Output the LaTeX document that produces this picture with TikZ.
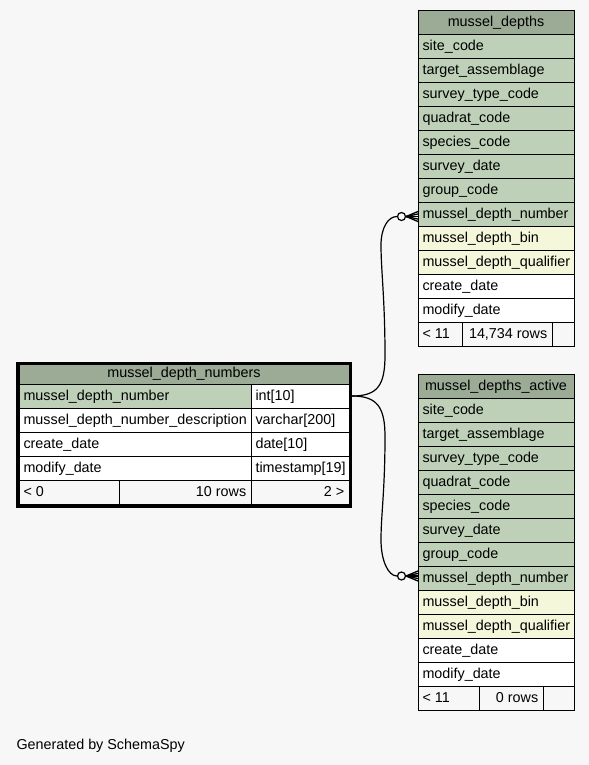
\documentclass[tikz,border=0pt]{standalone}
\usepackage{fontspec}
\setmainfont{Liberation Sans}
\definecolor{bg}{HTML}{F7F7F7}
\definecolor{hdr}{HTML}{9BAB96}
\definecolor{keyc}{HTML}{BED1B8}
\definecolor{idx}{HTML}{F4F7DA}
\newcommand\lcell[6]{\node[cellbox,fill=#5,minimum width={#4*0.75pt}] (#1) at (#2,#3) {};\node[ctext,anchor=base west] at ([xshift=3.4pt,yshift=-12.5pt]#1.north west) {#6};}
\newcommand\rcell[6]{\node[cellbox,fill=#5,minimum width={#4*0.75pt}] (#1) at (#2,#3) {};\node[ctext,anchor=base east] at ([xshift=-3.6pt,yshift=-12.5pt]#1.north east) {#6};}
\newcommand\hcell[6]{\node[cellbox,fill=#5,minimum width={#4*0.75pt}] (#1) at (#2,#3) {};\node[ctext,anchor=base] at ([yshift=-12.5pt]#1.north) {#6};}
\begin{document}
\begin{tikzpicture}[x=0.75pt,y=-0.75pt,font=\fontsize{10.76}{12}\selectfont,
  cellbox/.style={draw=black,line width=0.75pt,rectangle,inner sep=0pt,outer sep=0pt,minimum height=18pt,anchor=north west},
  ctext/.style={inner sep=0pt,outer sep=0pt,text=black},
  conn/.style={draw=black,line width=0.9pt},
  crow/.style={draw=black,line width=1pt},
  odot/.style={circle,draw=black,fill=bg,line width=0.9pt,minimum size=6pt,inner sep=0pt}]
\fill[bg] (0,0) rectangle (589,765);
\useasboundingbox (0,0) rectangle (589,765);

% ---- mussel_depths
\hcell{mdh}{418}{10}{156}{hdr}{mussel\_depths}
\foreach \t/\f [count=\i] in {site\_code/keyc,target\_assemblage/keyc,survey\_type\_code/keyc,quadrat\_code/keyc,species\_code/keyc,survey\_date/keyc,group\_code/keyc,mussel\_depth\_number/keyc,mussel\_depth\_bin/idx,mussel\_depth\_qualifier/idx,create\_date/white,modify\_date/white}{
  \lcell{md\i}{418}{10+\i*24}{156}{\f}{\t}
}
\lcell{mdf1}{418}{322}{44}{bg}{< 11}
\rcell{mdf2}{462}{322}{90}{bg}{14,734 rows}
\lcell{mdf3}{552}{322}{22}{bg}{}

% ---- mussel_depths_active
\hcell{mah}{418}{374}{156}{hdr}{mussel\_depths\_active}
\foreach \t/\f [count=\i] in {site\_code/keyc,target\_assemblage/keyc,survey\_type\_code/keyc,quadrat\_code/keyc,species\_code/keyc,survey\_date/keyc,group\_code/keyc,mussel\_depth\_number/keyc,mussel\_depth\_bin/idx,mussel\_depth\_qualifier/idx,create\_date/white,modify\_date/white}{
  \lcell{ma\i}{418}{374+\i*24}{156}{\f}{\t}
}
\lcell{maf1}{418}{686}{61}{bg}{< 11}
\rcell{maf2}{479}{686}{64}{bg}{0 rows}
\lcell{maf3}{543}{686}{31}{bg}{}

% ---- mussel_depth_numbers
\node[cellbox,fill=hdr,minimum width={330*0.75pt},minimum height={20*0.75pt}] (nh) at (19,364) {};
\node[ctext,anchor=base] at (184,377) {mussel\_depth\_numbers};
\lcell{n1}{19}{384}{232}{keyc}{mussel\_depth\_number}
\lcell{n1t}{251}{384}{98}{white}{int[10]}
\lcell{n2}{19}{408}{232}{white}{mussel\_depth\_number\_description}
\lcell{n2t}{251}{408}{98}{white}{varchar[200]}
\lcell{n3}{19}{432}{232}{white}{create\_date}
\lcell{n3t}{251}{432}{98}{white}{date[10]}
\lcell{n4}{19}{456}{232}{white}{modify\_date}
\lcell{n4t}{251}{456}{98}{white}{timestamp[19]}
\lcell{nf1}{19}{480}{100}{bg}{< 0}
\rcell{nf2}{119}{480}{132}{bg}{10 rows}
\rcell{nf3}{251}{480}{98}{bg}{2 >}
\draw[line width=2.25pt] (17.5,363) rectangle (350.5,506);

% ---- connectors
\node[odot] (c1) at (401.5,216.5) {};
\node[odot] (c2) at (401.5,576) {};
\draw[conn] ([xshift=2.25pt]n1t.east) .. controls (378,396) and (385,385) .. (385,355)
  .. controls (385,300) and (381,270) .. (381,245)
  .. controls (381,228) and (388,216.5) .. (c1.west);
\draw[conn] ([xshift=2.25pt]n1t.east) .. controls (378,396) and (385,408) .. (385,437)
  .. controls (385,490) and (381,515) .. (381,540)
  .. controls (381,560) and (388,576) .. (c2.west);
\path (c1.east -| md8.west) coordinate (t1);
\path (c2.east -| ma8.west) coordinate (t2);
\foreach \s in {-3.75pt,-1.9pt,0pt,1.9pt,3.75pt}{
  \draw[crow] (c1.east) -- ([yshift=\s]t1);
  \draw[crow] (c2.east) -- ([yshift=\s]t2);
}

% ---- footer
\node[ctext,anchor=base west] (gen) at (16.5,749) {Generated by SchemaSpy};
\end{tikzpicture}
\end{document}
